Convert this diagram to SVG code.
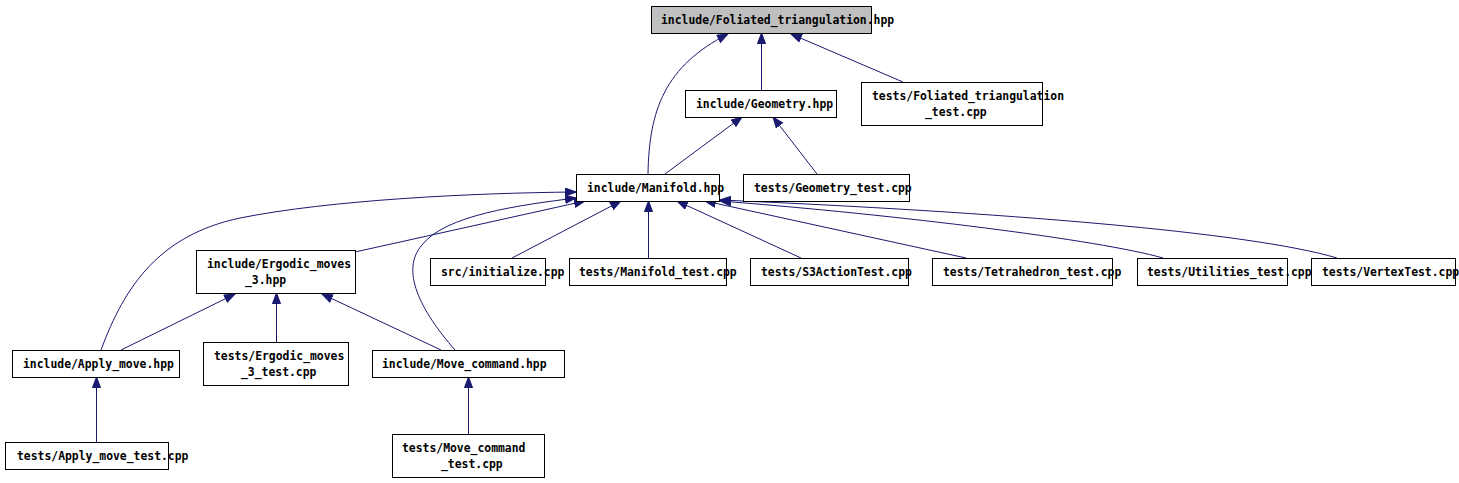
<svg xmlns="http://www.w3.org/2000/svg" width="1459" height="483" viewBox="0 0 1459 483">
<style>
.box{fill:#ffffff;stroke:#000000;stroke-width:1}
.root{fill:#bfbfbf;stroke:#000000;stroke-width:1}
text{font-family:"DejaVu Sans Mono","Liberation Mono",monospace;font-weight:bold;font-size:11.4px;fill:#000000}
.edge{fill:none;stroke:#191970;stroke-width:1;marker-end:url(#arr)}
</style>
<defs>
<marker id="arr" markerUnits="userSpaceOnUse" markerWidth="12" markerHeight="10" refX="11" refY="4.5" orient="auto">
<path d="M0.5,0.5 L11,4.5 L0.5,8.5 z" fill="#191970" stroke="#191970" stroke-width="1"/>
</marker>
</defs>
<rect width="1459" height="483" fill="#ffffff"/>
<g id="edges">
<path class="edge" d="M761.5,90 L761.5,33"/>
<path class="edge" d="M903,82 L791,34"/>
<path class="edge" d="M648,174 C649,110 665,66 728,34"/>
<path class="edge" d="M665,174 L742,117"/>
<path class="edge" d="M817,174 L773,117"/>
<path class="edge" d="M512,258 L621,201"/>
<path class="edge" d="M648.5,258 L648.5,201"/>
<path class="edge" d="M801,258 L677,201"/>
<path class="edge" d="M966,258 L705,201"/>
<path class="edge" d="M1163,258 C1100,240 900,215 720,201"/>
<path class="edge" d="M1337,258 C1250,232 1000,212 720,200"/>
<path class="edge" d="M101,350 C125,285 160,235 240,218 C330,200 470,193 576,192"/>
<path class="edge" d="M455,350 C420,310 400,270 422,245 C445,215 520,205 576,198"/>
<path class="edge" d="M355,252 L585,201"/>
<path class="edge" d="M121,350 L235,294"/>
<path class="edge" d="M276.5,342 L276.5,293"/>
<path class="edge" d="M441,350 L322,294"/>
<path class="edge" d="M96.5,442 L96.5,377"/>
<path class="edge" d="M468.5,434 L468.5,377"/>
</g>
<g id="n_foliated"><rect class="root" x="651.5" y="6.5" width="220" height="27"/><text x="661" y="24">include/Foliated_triangulation.hpp</text></g>
<g id="n_geometry"><rect class="box" x="685.5" y="90.5" width="151" height="27"/><text x="696" y="108">include/Geometry.hpp</text></g>
<g id="n_foliated_test"><rect class="box" x="861.5" y="82.5" width="181" height="43"/><text x="872" y="100">tests/Foliated_triangulation</text><text x="925" y="116">_test.cpp</text></g>
<g id="n_manifold"><rect class="box" x="576.5" y="174.5" width="143" height="27"/><text x="587" y="192">include/Manifold.hpp</text></g>
<g id="n_geometry_test"><rect class="box" x="743.5" y="174.5" width="166" height="27"/><text x="754" y="192">tests/Geometry_test.cpp</text></g>
<g id="n_ergodic"><rect class="box" x="196.5" y="250.5" width="159" height="43"/><text x="207" y="268">include/Ergodic_moves</text><text x="245" y="284">_3.hpp</text></g>
<g id="n_initialize"><rect class="box" x="430.5" y="258.5" width="115" height="27"/><text x="441" y="276">src/initialize.cpp</text></g>
<g id="n_manifold_test"><rect class="box" x="569.5" y="258.5" width="157" height="27"/><text x="579" y="276">tests/Manifold_test.cpp</text></g>
<g id="n_s3action"><rect class="box" x="750.5" y="258.5" width="158" height="27"/><text x="761" y="276">tests/S3ActionTest.cpp</text></g>
<g id="n_tetrahedron"><rect class="box" x="932.5" y="258.5" width="180" height="27"/><text x="943" y="276">tests/Tetrahedron_test.cpp</text></g>
<g id="n_utilities"><rect class="box" x="1137.5" y="258.5" width="150" height="27"/><text x="1147" y="276">tests/Utilities_test.cpp</text></g>
<g id="n_vertex"><rect class="box" x="1311.5" y="258.5" width="144" height="27"/><text x="1322" y="276">tests/VertexTest.cpp</text></g>
<g id="n_apply_move"><rect class="box" x="12.5" y="350.5" width="167" height="27"/><text x="23" y="368">include/Apply_move.hpp</text></g>
<g id="n_ergodic_test"><rect class="box" x="203.5" y="342.5" width="145" height="43"/><text x="214" y="360">tests/Ergodic_moves</text><text x="241" y="376">_3_test.cpp</text></g>
<g id="n_move_command"><rect class="box" x="372.5" y="350.5" width="192" height="27"/><text x="382" y="368">include/Move_command.hpp</text></g>
<g id="n_apply_move_test"><rect class="box" x="5.5" y="442.5" width="163" height="27"/><text x="17" y="460">tests/Apply_move_test.cpp</text></g>
<g id="n_move_command_test"><rect class="box" x="392.5" y="434.5" width="152" height="43"/><text x="402" y="452">tests/Move_command</text><text x="441" y="468">_test.cpp</text></g>
</svg>
